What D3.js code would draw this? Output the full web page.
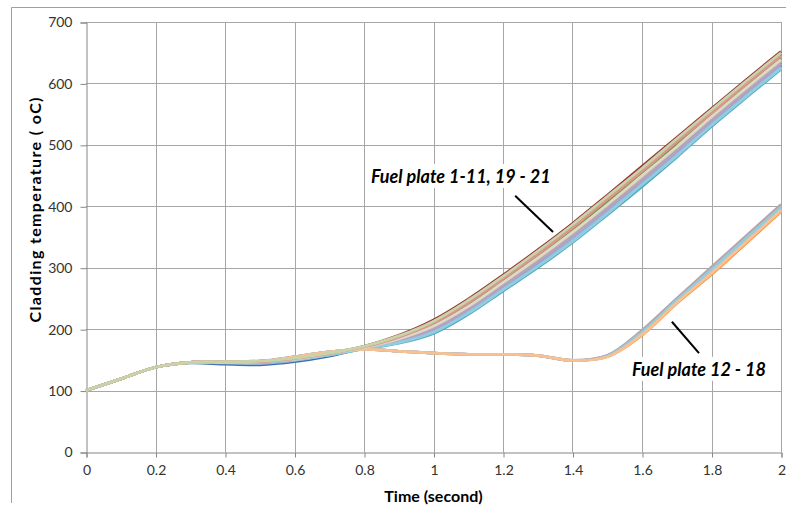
<!DOCTYPE html>
<html>
<head>
<meta charset="utf-8">
<script src="https://cdn.jsdelivr.net/npm/d3@7"></script>
<style>
  body { margin: 0; background: #fff; }
  text { font-family: Lato, "Open Sans", sans-serif; }
</style>
</head>
<body>
<div id="chart"></div>
<script>
// time in seconds
var time = [0, 0.1, 0.2, 0.3, 0.4, 0.5, 0.6, 0.7, 0.8, 0.9, 1.0, 1.1, 1.2, 1.3, 1.4, 1.5, 1.6, 1.7, 1.8, 1.9, 2.0];

// cladding temperature (oC) per fuel plate
var plate1  = [100, 119, 138, 145, 143, 142, 147, 156, 169, 180, 198, 230, 268, 307, 348, 393, 440, 487, 537, 584, 630];
var plate2  = [100, 119, 138, 146, 147, 147, 152, 160, 171, 188, 212, 245, 284, 325, 367, 413, 460, 507, 555, 602, 648];
var plate3  = [100, 119, 138, 146, 147, 147, 152, 160, 171, 186, 208, 241, 280, 320, 362, 408, 455, 502, 550, 597, 643];
var plate4  = [100, 119, 138, 146, 146, 146, 151, 159, 170, 182, 201, 234, 272, 311, 353, 398, 445, 492, 541, 588, 634];
var plate5  = [100, 119, 138, 146, 146, 145, 150, 158, 168, 177, 193, 224, 262, 300, 341, 386, 432, 480, 530, 577, 623];
var plate6  = [100, 119, 138, 146, 146, 146, 151, 159, 170, 183, 203, 236, 274, 313, 355, 401, 447, 495, 543, 590, 636];
var plate7  = [100, 119, 138, 146, 145, 144, 149, 158, 169, 179, 196, 228, 266, 304, 346, 391, 437, 485, 534, 581, 627];
var plate8  = [100, 119, 138, 146, 147, 148, 153, 161, 172, 190, 215, 249, 288, 329, 372, 418, 465, 512, 559, 606, 652];
var plate9  = [100, 119, 138, 146, 146, 147, 152, 160, 170, 185, 207, 239, 278, 318, 360, 406, 452, 500, 548, 595, 641];
var plate10 = [100, 119, 138, 146, 146, 146, 150, 159, 169, 181, 200, 232, 270, 309, 351, 396, 442, 490, 539, 586, 632];
var plate11 = [100, 119, 138, 146, 146, 146, 150, 158, 168, 178, 195, 226, 264, 302, 343, 388, 435, 482, 532, 579, 625];
var plate12 = [100, 119, 138, 146, 147, 147, 155, 163, 167, 164, 161, 159, 159, 157, 149, 155, 190, 242, 289, 340, 391];
var plate13 = [100, 119, 138, 146, 147, 147, 155, 163, 167, 164, 161, 159, 159, 157, 149, 157, 197, 249, 299, 350, 401];
var plate14 = [100, 119, 138, 146, 147, 147, 155, 163, 167, 164, 161, 159, 159, 157, 149, 156, 193, 245, 293, 344, 395];
var plate15 = [100, 119, 138, 146, 147, 147, 155, 163, 167, 164, 161, 159, 159, 157, 149, 156, 194, 246, 295, 346, 397];
var plate16 = [100, 119, 138, 146, 147, 148, 155, 163, 167, 164, 161, 159, 159, 157, 149, 157, 198, 250, 301, 352, 403];
var plate17 = [100, 119, 138, 146, 147, 147, 155, 163, 167, 164, 161, 159, 159, 157, 149, 156, 195, 247, 297, 348, 399];
var plate18 = [100, 119, 138, 146, 147, 147, 155, 163, 167, 164, 161, 159, 159, 157, 149, 155, 191, 243, 291, 342, 393];
var plate19 = [100, 119, 138, 146, 146, 147, 151, 160, 170, 184, 205, 237, 276, 316, 358, 403, 450, 497, 546, 593, 639];
var plate20 = [100, 119, 138, 146, 147, 147, 152, 160, 171, 187, 210, 243, 282, 322, 365, 411, 457, 505, 552, 599, 645];
var plate21 = [100, 119, 138, 146, 147, 148, 153, 161, 172, 189, 213, 247, 286, 327, 370, 416, 462, 510, 557, 604, 650];

var plates = [plate1, plate2, plate3, plate4, plate5, plate6, plate7, plate8, plate9, plate10, plate11,
              plate12, plate13, plate14, plate15, plate16, plate17, plate18, plate19, plate20, plate21];
var colors = ["#3F6FB0", "#C0504D", "#9BBB59", "#8064A2", "#4BACC6", "#C4BD97", "#95B3D7", "#953735", "#77933C", "#B3A2C7", "#93CDDD",
              "#F79646", "#8EB4E3", "#E6B9B8", "#CCC0DA", "#B9A3A8", "#93CDDD", "#FAC090", "#DDD9C3", "#D99694", "#C8D4A8"];

var xTicks = [0, 0.2, 0.4, 0.6, 0.8, 1, 1.2, 1.4, 1.6, 1.8, 2];
var yTicks = [0, 100, 200, 300, 400, 500, 600, 700];

var width = 786, height = 515;

var x = d3.scaleLinear().domain([0, 2]).range([86, 781]);
var y = d3.scaleLinear().domain([0, 700]).range([452, 22]);

var svg = d3.select('#chart')
    .append('svg')
    .attr('width', width)
    .attr('height', height);

// chart area border (left + top)
svg.append('path')
    .attr('d', 'M11.5,503 L11.5,7.5 L786,7.5')
    .attr('fill', 'none')
    .attr('stroke', '#a0a0a0')
    .attr('stroke-width', 1);

// gridlines
svg.append('g').selectAll('line')
    .data(yTicks.slice(1))
    .enter().append('line')
    .attr('x1', x(0)).attr('x2', x(2))
    .attr('y1', function(d){ return Math.round(y(d)) + 0.5; })
    .attr('y2', function(d){ return Math.round(y(d)) + 0.5; })
    .attr('stroke', '#a6a6a6');

svg.append('g').selectAll('line')
    .data(xTicks.slice(1))
    .enter().append('line')
    .attr('y1', y(0)).attr('y2', y(700))
    .attr('x1', function(d){ return Math.round(x(d)) + 0.5; })
    .attr('x2', function(d){ return Math.round(x(d)) + 0.5; })
    .attr('stroke', '#a6a6a6');

// axes
var xAxis = svg.append('g')
    .attr('transform', 'translate(0.5,' + (Math.round(y(0)) + 0.5) + ')')
    .call(d3.axisBottom(x).tickValues(xTicks).tickSize(5).tickPadding(8).tickFormat(d3.format('')));
var yAxis = svg.append('g')
    .attr('transform', 'translate(' + (Math.round(x(0)) + 0.5) + ',0.5)')
    .call(d3.axisLeft(y).tickValues(yTicks).tickSize(6).tickPadding(8));

[xAxis, yAxis].forEach(function(a){
    a.select('.domain').attr('stroke', '#868686');
    a.selectAll('.tick line').attr('stroke', '#868686');
    a.selectAll('.tick text').attr('fill', '#333').style('font-size', '14px');
});

// lines
var line = d3.line()
    .x(function(d, i){ return x(time[i]); })
    .y(function(d){ return y(d); })
    .curve(d3.curveCatmullRom.alpha(0.5));

svg.append('g').selectAll('path')
    .data(plates)
    .enter().append('path')
    .attr('d', line)
    .attr('fill', 'none')
    .attr('stroke', function(d, i){ return colors[i]; })
    .attr('stroke-width', 2.75)
    .attr('stroke-linejoin', 'round');

// axis titles
svg.append('text')
    .attr('x', x(1))
    .attr('y', 502)
    .attr('text-anchor', 'middle')
    .style('font-size', '16px')
    .style('font-weight', 'bold')
    .text('Time (second)');

svg.append('text')
    .attr('transform', 'translate(41,210) rotate(-90)')
    .attr('text-anchor', 'middle')
    .attr('textLength', 225)
    .attr('lengthAdjust', 'spacing')
    .style('font-size', '16px')
    .style('font-weight', 'bold')
    .text('Cladding temperature ( oC)');

// annotations
function annotate(label, tx, ty, from, to) {
    var g = svg.append('g');
    g.append('line')
        .attr('x1', x(from[0])).attr('y1', y(from[1]))
        .attr('x2', x(to[0])).attr('y2', y(to[1]))
        .attr('stroke', '#000')
        .attr('stroke-width', 2);
    var bg = g.append('rect').attr('fill', '#fff');
    var t = g.append('text')
        .attr('x', x(tx))
        .attr('y', y(ty))
        .style('font-size', '18px')
        .style('font-weight', 'bold')
        .style('font-style', 'italic')
        .attr('fill', '#000')
        .text(label);
    var b = t.node().getBBox();
    bg.attr('x', b.x - 3).attr('y', b.y - 1).attr('width', b.width + 6).attr('height', b.height + 2);
}

annotate('Fuel plate 1-11, 19 - 21', 0.82, 438, [1.235, 417], [1.344, 358]);
annotate('Fuel plate 12 - 18', 1.571, 124, [1.686, 212], [1.764, 161]);
</script>
</body>
</html>
